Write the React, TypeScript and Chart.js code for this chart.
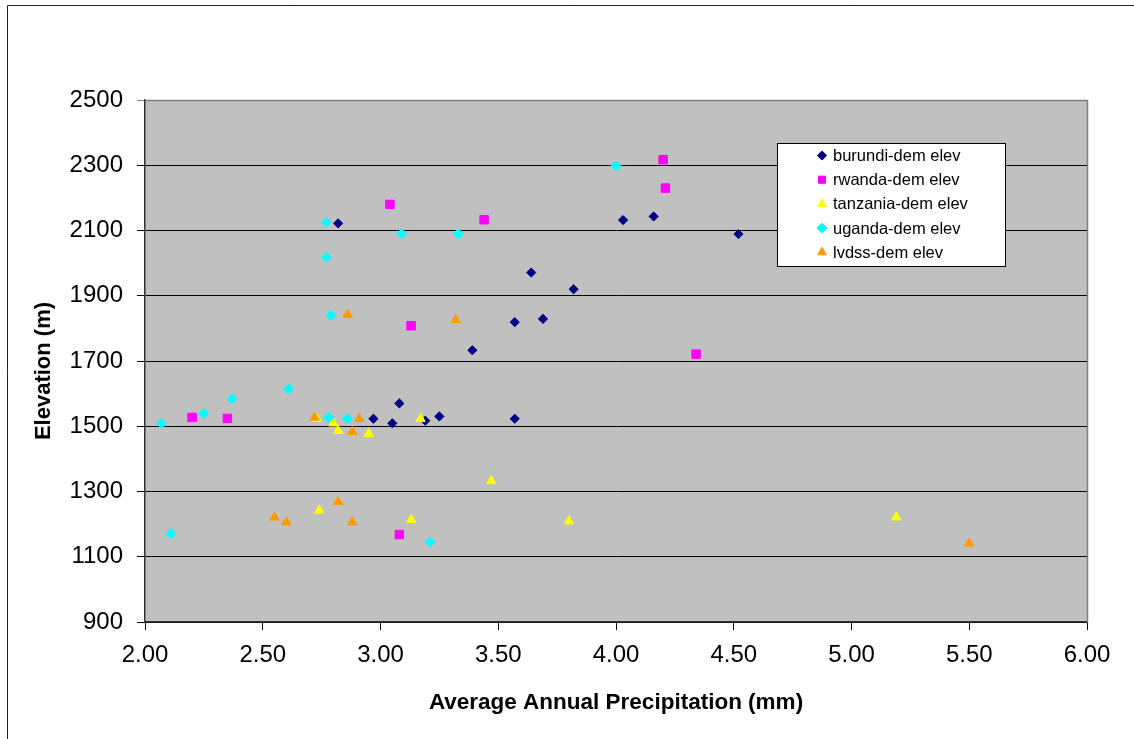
import React, { useEffect, useRef } from "react";
import { Chart, registerables } from "chart.js";
import { drawPoint } from "chart.js/helpers";

Chart.register(...registerables);

// ---- data ----
const seriesNames = [
  "burundi-dem elev",
  "rwanda-dem elev",
  "tanzania-dem elev",
  "uganda-dem elev",
  "lvdss-dem elev",
];

const burundiX = [2.82, 3.57, 3.39, 4.03, 4.16, 4.52, 3.64, 3.82, 3.69, 2.97, 3.05, 3.08, 3.19, 3.25, 3.57];
const burundiY = [2122, 1819, 1733, 2132, 2143, 2089, 1971, 1920, 1829, 1523, 1509, 1570, 1517, 1530, 1523];

const rwandaX = [3.04, 3.44, 3.13, 4.2, 4.21, 4.34, 2.2, 2.35, 3.08];
const rwandaY = [2180, 2133, 1808, 2317, 2230, 1721, 1527, 1524, 1168];

const tanzaniaX = [2.73, 2.8, 2.82, 2.95, 3.17, 3.47, 2.74, 3.13, 3.8, 5.19];
const tanzaniaY = [1523, 1509, 1487, 1477, 1523, 1332, 1242, 1213, 1209, 1221];

const ugandaX = [2.77, 3.09, 3.33, 2.77, 2.79, 4.0, 2.07, 2.25, 2.37, 2.61, 2.78, 2.86, 2.11, 3.21];
const ugandaY = [2125, 2090, 2090, 2018, 1840, 2298, 1509, 1539, 1584, 1614, 1527, 1523, 1171, 1145];

const lvdssX = [2.86, 3.32, 2.72, 2.88, 2.91, 2.55, 2.6, 2.82, 2.88, 5.5];
const lvdssY = [1842, 1826, 1527, 1483, 1523, 1221, 1206, 1268, 1206, 1141];

const xMin = 2;
const xMax = 6;
const xStep = 0.5;
const yMin = 900;
const yMax = 2500;
const yStep = 200;

const xTitle = "Average Annual Precipitation (mm)";
const yTitle = "Elevation (m)";

// ---- styles ----
const seriesColors = ["#000080", "#FF00FF", "#FFFF00", "#00FFFF", "#FF9900"];
const seriesMarkers = ["rectRot", "rect", "triangle", "rectRot", "triangle"];
const seriesRadius = [4.6, 6, 5.4, 5, 5.4];

const FONT = '"Liberation Sans", Arial, Helvetica, sans-serif';

const pairs = (xs: number[], ys: number[]) => xs.map((x, i) => ({ x, y: ys[i] }));

const bgPlugin = {
  id: "bgPlugin",
  beforeDraw(chart: any) {
    const { ctx, width, height, chartArea } = chart;
    ctx.save();
    ctx.fillStyle = "#ffffff";
    ctx.fillRect(0, 0, width, height);
    ctx.strokeStyle = "#222222";
    ctx.lineWidth = 1;
    ctx.beginPath();
    ctx.moveTo(7.5, height + 2);
    ctx.lineTo(7.5, 5.5);
    ctx.lineTo(width + 2, 5.5);
    ctx.stroke();
    ctx.fillStyle = "#C0C0C0";
    ctx.fillRect(chartArea.left, chartArea.top, chartArea.right - chartArea.left, chartArea.bottom - chartArea.top);
    ctx.restore();
  },
  beforeDatasetsDraw(chart: any) {
    const { ctx, chartArea } = chart;
    ctx.save();
    ctx.strokeStyle = "#808080";
    ctx.lineWidth = 1.5;
    ctx.beginPath();
    ctx.moveTo(chartArea.left, Math.round(chartArea.top) + 0.5);
    ctx.lineTo(Math.round(chartArea.right) + 0.5, Math.round(chartArea.top) + 0.5);
    ctx.lineTo(Math.round(chartArea.right) + 0.5, chartArea.bottom);
    ctx.stroke();
    ctx.restore();
  },
};

const yTitlePlugin = {
  id: "yTitlePlugin",
  afterDraw(chart: any) {
    const { ctx, chartArea } = chart;
    ctx.save();
    ctx.translate(44, (chartArea.top + chartArea.bottom) / 2 + 10);
    ctx.rotate(-Math.PI / 2);
    ctx.font = "bold 22px " + FONT;
    ctx.fillStyle = "#000000";
    ctx.textAlign = "center";
    ctx.textBaseline = "middle";
    ctx.fillText(yTitle, 0, 0);
    ctx.restore();
  },
};

const legendPlugin = {
  id: "boxLegend",
  afterDraw(chart: any) {
    const { ctx } = chart;
    const x0 = 777;
    const y0 = 143;
    const w = 228;
    const h = 123;
    ctx.save();
    ctx.fillStyle = "#ffffff";
    ctx.fillRect(x0, y0, w, h);
    ctx.strokeStyle = "#000000";
    ctx.lineWidth = 1;
    ctx.strokeRect(x0 + 0.5, y0 + 0.5, w, h);
    ctx.font = "16.5px " + FONT;
    ctx.textBaseline = "middle";
    ctx.textAlign = "left";
    chart.data.datasets.forEach((ds: any, i: number) => {
      const cy = y0 + 12.5 + i * 24.2;
      ctx.fillStyle = ds.backgroundColor;
      ctx.strokeStyle = ds.borderColor;
      ctx.lineWidth = 1;
      drawPoint(ctx, { pointStyle: ds.pointStyle, radius: Math.min(ds.pointRadius, 5), rotation: 0, borderWidth: 1 }, x0 + 45, cy);
      ctx.fillStyle = "#000000";
      ctx.fillText(ds.label, x0 + 56, cy + 1);
    });
    ctx.restore();
  },
};

export default function App() {
  const canvasRef = useRef<HTMLCanvasElement | null>(null);

  useEffect(() => {
    document.body.style.margin = "0";
    const canvas = canvasRef.current;
    if (!canvas) return;
    const allX = [burundiX, rwandaX, tanzaniaX, ugandaX, lvdssX];
    const allY = [burundiY, rwandaY, tanzaniaY, ugandaY, lvdssY];
    const datasets = seriesNames.map((name, i) => ({
      label: name,
      data: pairs(allX[i], allY[i]),
      backgroundColor: seriesColors[i],
      borderColor: seriesColors[i],
      pointStyle: seriesMarkers[i],
      pointRadius: seriesRadius[i],
      pointBorderWidth: 1,
      order: seriesNames.length - i,
      showLine: false,
    }));

    const chart = new Chart(canvas, {
      type: "scatter",
      data: { datasets } as any,
      plugins: [bgPlugin, legendPlugin, yTitlePlugin],
      options: {
        responsive: false,
        animation: false,
        events: [],
        layout: { padding: { left: 0, top: 100, right: 47, bottom: 0 } },
        plugins: {
          legend: { display: false },
          tooltip: { enabled: false },
          title: { display: false },
        },
        scales: {
          x: {
            type: "linear",
            min: xMin,
            max: xMax,
            afterFit: (s: any) => {
              s.height = 117;
            },
            ticks: {
              stepSize: xStep,
              padding: 11,
              color: "#000000",
              font: { family: FONT, size: 24 },
              callback: (v: any) => Number(v).toFixed(2),
              maxRotation: 0,
              autoSkip: false,
            },
            grid: {
              drawOnChartArea: false,
              drawTicks: true,
              tickLength: 8,
              color: "#000000",
            },
            border: { display: true, color: "#333333", width: 1.5 },
            title: {
              display: true,
              text: xTitle,
              color: "#000000",
              font: { family: FONT, size: 22.5, weight: "bold" },
              padding: { top: 0, bottom: 23 },
            },
          },
          y: {
            type: "linear",
            min: yMin,
            max: yMax,
            afterFit: (s: any) => {
              s.width = 145;
            },
            ticks: {
              stepSize: yStep,
              padding: 14,
              color: "#000000",
              font: { family: FONT, size: 24 },
              callback: (v: any) => String(Math.round(Number(v))),
              autoSkip: false,
            },
            grid: {
              drawTicks: true,
              tickLength: 8,
              color: (c: any) => (c.tick && c.tick.value === yMax ? "#808080" : "#000000"),
              lineWidth: 1,
            },
            border: { display: true, color: "#333333", width: 1.5 },
            title: { display: false },
          },
        },
      } as any,
    });
    return () => chart.destroy();
  }, []);

  return (
    <div style={{ width: 1134, height: 739 }}>
      <canvas ref={canvasRef} width={1134} height={739} style={{ display: "block", width: 1134, height: 739 }} />
    </div>
  );
}
